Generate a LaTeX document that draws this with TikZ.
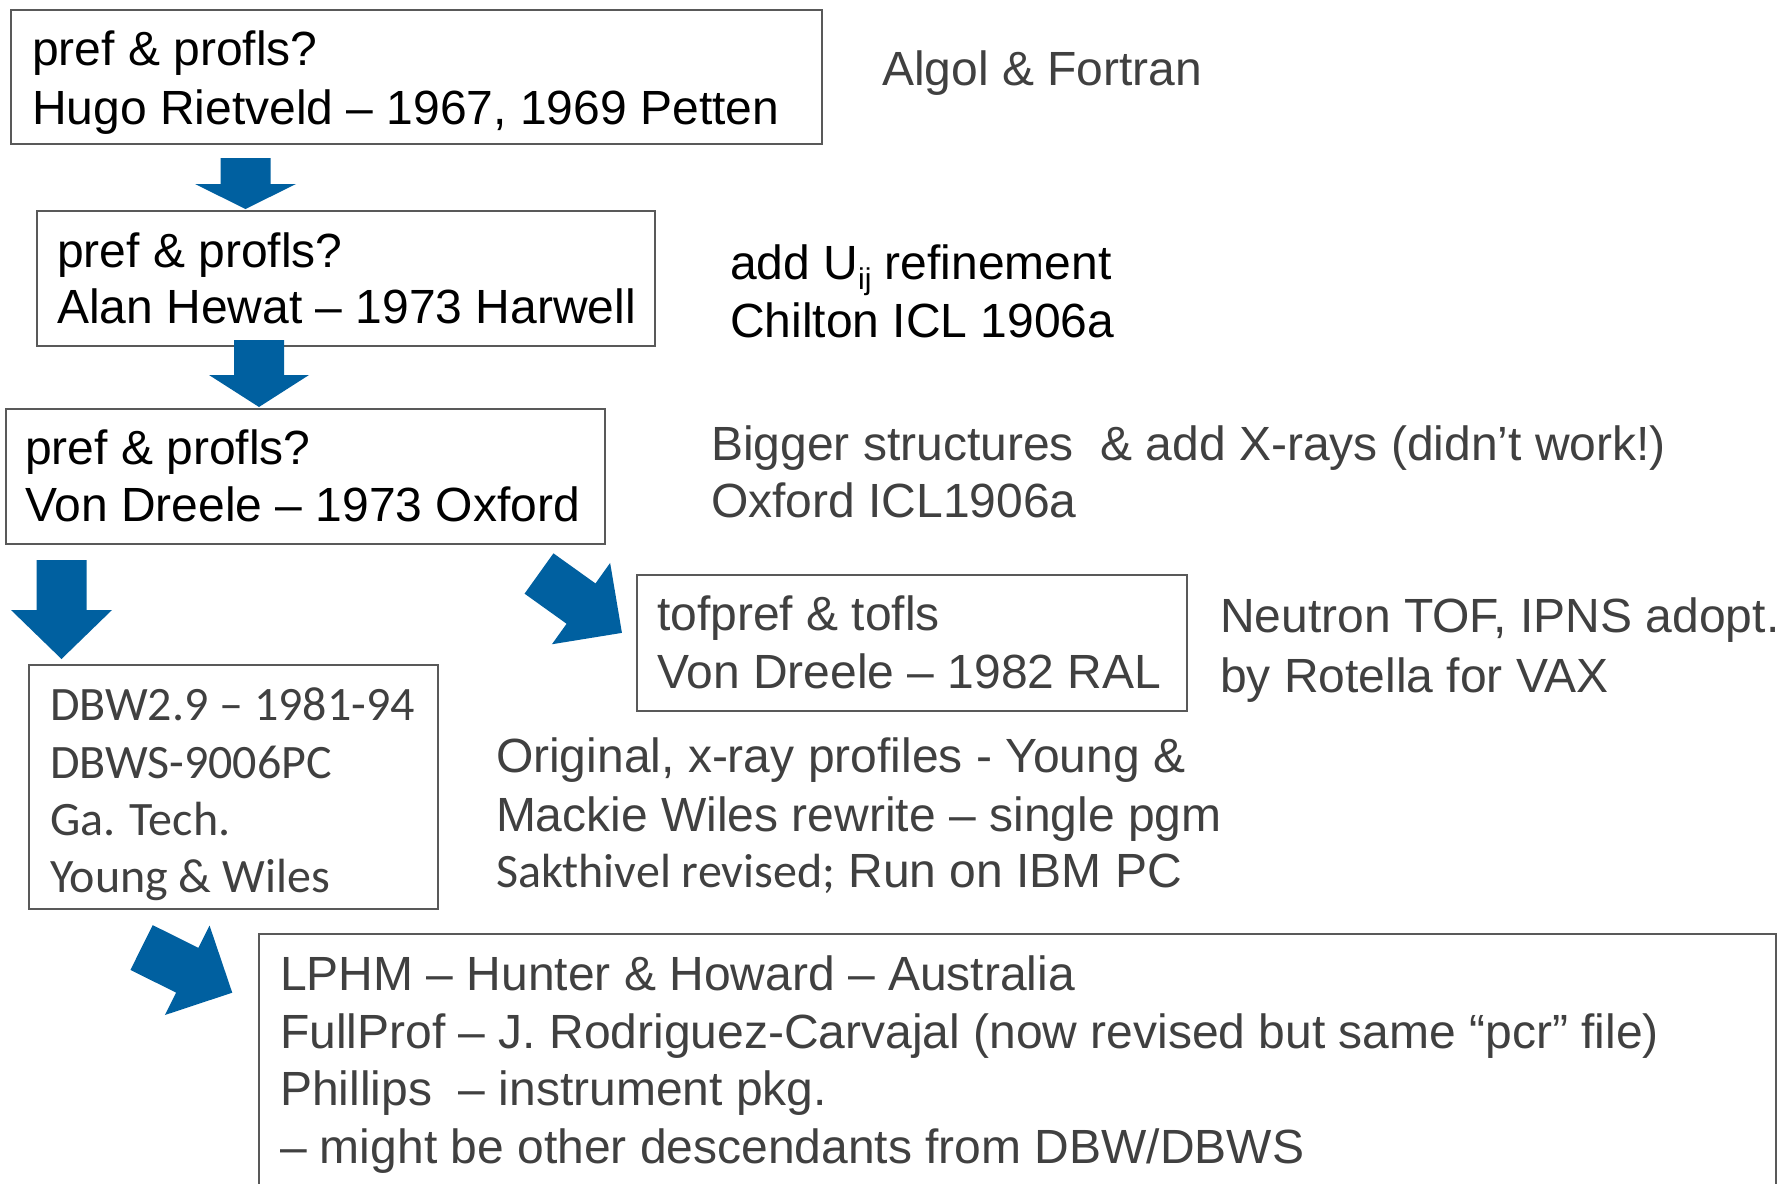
\documentclass[tikz,border=0pt]{standalone}
\usepackage{fontspec}
\setmainfont{Liberation Sans}
\newfontfamily\calfont{Carlito}
\definecolor{arrowblue}{RGB}{0,96,160}
\definecolor{boxgray}{RGB}{89,89,89}
\definecolor{txtgray}{RGB}{64,64,64}
% #1 tail centre, #2 angle, #3 shaft length, #4 total length, #5 half shaft width, #6 half head width
\newcommand\blockarrow[6]{%
  \fill[arrowblue,shift={(#1)},rotate=#2] (0,-#5) -- (#3,-#5) -- (#3,-#6) -- (#4,0) -- (#3,#6) -- (#3,#5) -- (0,#5) -- cycle;}
\begin{document}
\begin{tikzpicture}[x=1pt,y=-1pt,
  box/.style={draw=boxgray, line width=2pt, fill=none, anchor=north west, inner sep=0pt, outer sep=0pt},
  txt/.style={inner sep=0pt, outer sep=0pt, anchor=base west, font=\fontsize{48}{57}\selectfont, text=txtgray},
  dark/.style={text=black}]
\useasboundingbox (0,0) rectangle (1777,1183);
\clip (0,0) rectangle (1777,1183);
\fill[white] (0,0) rectangle (1777,1183);

% boxes
\node[box, minimum width=811pt, minimum height=134pt] (b1) at (11,10) {};
\node[box, minimum width=618pt, minimum height=135pt] (b2) at (37,211) {};
\node[box, minimum width=599pt, minimum height=135pt] (b3) at (6,409) {};
\node[box, minimum width=550pt, minimum height=136pt] (b4) at (637,575) {};
\node[box, minimum width=409pt, minimum height=244pt] (b5) at (29,665) {};
\node[box, minimum width=1517pt, minimum height=270pt] (b6) at (259,934) {};

% box texts
\node[txt,dark] (b1a) at (32,65) {pref \& profls?};
\node[txt,dark] (b1b) at (32,124) {Hugo Rietveld – 1967, 1969 Petten};
\node[txt,dark] (b2a) at (57,267) {pref \& profls?};
\node[txt,dark] (b2b) at (57,323) {Alan Hewat – 1973 Harwell};
\node[txt,dark] (b3a) at (25,464) {pref \& profls?};
\node[txt,dark] (b3b) at (25,521) {Von Dreele – 1973 Oxford};
\node[txt] (b4a) at (657,630) {tofpref \& tofls};
\node[txt] (b4b) at (657,688) {Von Dreele – 1982 RAL};
\node[txt] (b5a) at (50,720) {\calfont DBW2.9 – 1981-94};
\node[txt] (b5b) at (50,778) {\calfont DBWS-9006PC};
\node[txt] (b5c) at (50,835) {\calfont Ga. Tech.};
\node[txt] (b5d) at (50,892) {\calfont Young \& Wiles};
\node[txt] (b6a) at (280,990) {LPHM – Hunter \& Howard – Australia};
\node[txt] (b6b) at (280,1048) {FullProf – J. Rodriguez-Carvajal (now revised but same “pcr” file)};
\node[txt] (b6c) at (280,1105) {Phillips\ \ – instrument pkg.};
\node[txt] (b6d) at (280,1163) {– might be other descendants from DBW/DBWS};

% side notes
\node[txt] (n1) at (882,85) {Algol \& Fortran};
\node[txt,dark] (n2a) at (730,279) {add U\raisebox{-10pt}{\fontsize{30}{30}\selectfont ij} refinement};
\node[txt,dark] (n2b) at (730,337) {Chilton ICL 1906a};
\node[txt] (n3a) at (711,460) {Bigger structures\ \ \& add X-rays (didn’t work!)};
\node[txt] (n3b) at (711,517) {Oxford ICL1906a};
\node[txt] (n4a) at (1220,632) {Neutron TOF, IPNS adopt.};
\node[txt] (n4b) at (1220,692) {by Rotella for VAX};
\node[txt] (n5a) at (496,772) {Original, x-ray profiles - Young \&};
\node[txt] (n5b) at (496,831) {Mackie Wiles rewrite – single pgm};
\node[txt] (n5c) at (496,887) {{\calfont Sakthivel revised;} Run on IBM PC};

% block arrows
\blockarrow{245.5,158}{-90}{26}{51}{25}{50.5}
\blockarrow{259,340}{-90}{35}{67}{25}{50}
\blockarrow{61.5,560}{-90}{50}{99}{25}{50.5}
\blockarrow{539,573.5}{-35.6}{51.7}{102}{24.8}{50}
\blockarrow{141.6,947.5}{-26.5}{51}{101.3}{25}{50}
\end{tikzpicture}
\end{document}
